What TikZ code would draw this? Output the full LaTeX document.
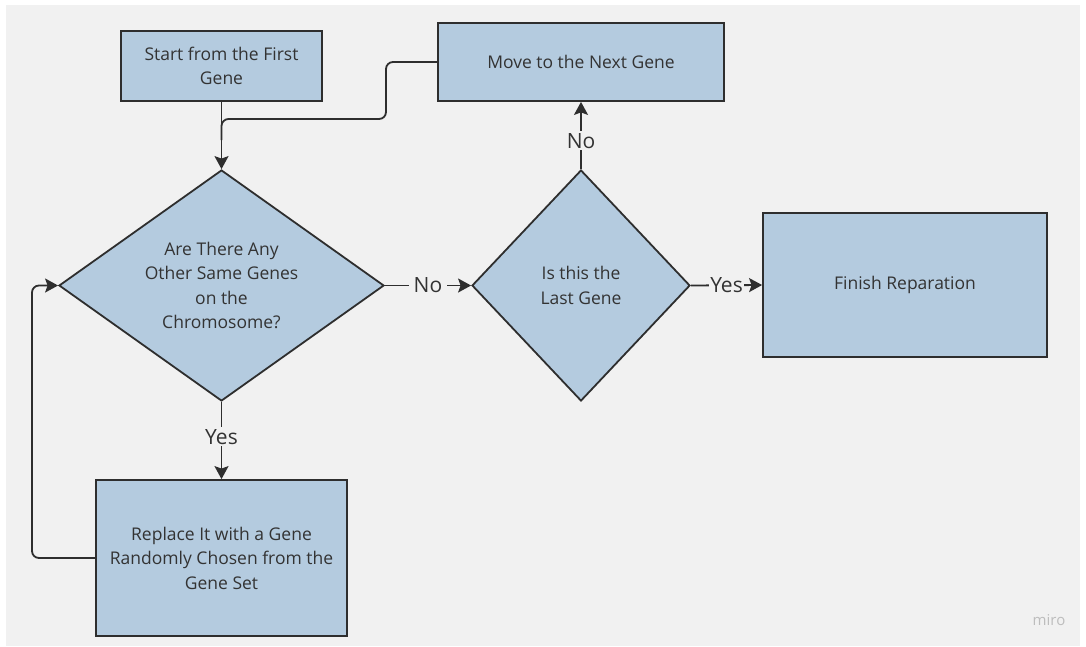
\documentclass[tikz,border=0pt]{standalone}
\usepackage{fontspec}
\setmainfont{Open Sans}
\usetikzlibrary{shapes.geometric,arrows.meta}
\definecolor{canvas}{HTML}{F1F1F1}
\definecolor{boxfill}{HTML}{B4CBDF}
\definecolor{edge}{HTML}{2E2E2E}
\definecolor{ink}{HTML}{333333}
\definecolor{mark}{HTML}{BDBDBD}
\tikzset{
  every node/.style={text=ink},
  body/.style={font=\fontsize{17.5}{24.5}\selectfont, align=center},
  procbox/.style={body, draw=edge, line width=1.8pt, fill=boxfill, inner sep=0pt},
  decision/.style={body, shape=diamond, draw=edge, line width=1.8pt, fill=boxfill, inner sep=0pt},
  link/.style={draw=edge, line width=1.8pt},
  tip/.style={link, -{Stealth[length=13pt,width=14pt,inset=2.5pt]}},
  answer/.style={font=\fontsize{21}{24}\selectfont, fill=canvas, inner xsep=5pt, inner ysep=2pt}
}
\begin{document}
\begin{tikzpicture}[x=1pt, y=-1pt]
  % page and canvas
  \fill[white] (0,0) rectangle (1086,646);
  \fill[canvas] (6,5) rectangle (1080,646);
  \useasboundingbox (0,0) rectangle (1086,646);

  % process boxes
  \node[procbox, minimum width=201pt, minimum height=70pt] (start) at (221.5,66) {Start from the First\\Gene};
  \node[procbox, minimum width=286pt, minimum height=78pt] (next) at (581,62) {Move to the Next Gene};
  \node[procbox, minimum width=284pt, minimum height=144pt] (finish) at (905,285) {Finish Reparation};
  \node[procbox, minimum width=251pt, minimum height=156pt] (replace) at (221.5,558) {Replace It with a Gene\\Randomly Chosen from the\\Gene Set};

  % decisions
  \node[decision, aspect=1.407, minimum width=325pt, minimum height=231pt] (same) at (221.5,285.5) {Are There Any\\Other Same Genes\\on the\\Chromosome?};
  \node[decision, aspect=0.944, minimum width=218pt, minimum height=231pt] (last) at (581,285.5) {Is this the\\Last Gene};

  % connectors
  \draw[tip] (start.south) -- (same.north);
  \coordinate (bend) at (386,119);
  \coordinate (join) at (221.5,140);
  \draw[link, rounded corners=7pt] (next.west) -| (bend) -- (221.5,119) -- (join);

  \draw[tip] (same.east) -- node[answer] {No} (last.west);
  \draw[tip] (last.east) -- node[answer, inner xsep=1pt] {Yes} (finish.west);
  \draw[tip] (last.north) -- node[answer, pos=0.42] {No} (next.south);
  \draw[tip] (same.south) -- node[answer, pos=0.45] {Yes} (replace.north);

  \coordinate (loop) at (32,285.5);
  \draw[tip, rounded corners=7pt] (replace.west) -| (loop) -- (same.west);

  % watermark
  \node[font=\fontsize{15}{17}\selectfont, text=mark] (wm) at (1049,620) {miro};
\end{tikzpicture}
\end{document}
